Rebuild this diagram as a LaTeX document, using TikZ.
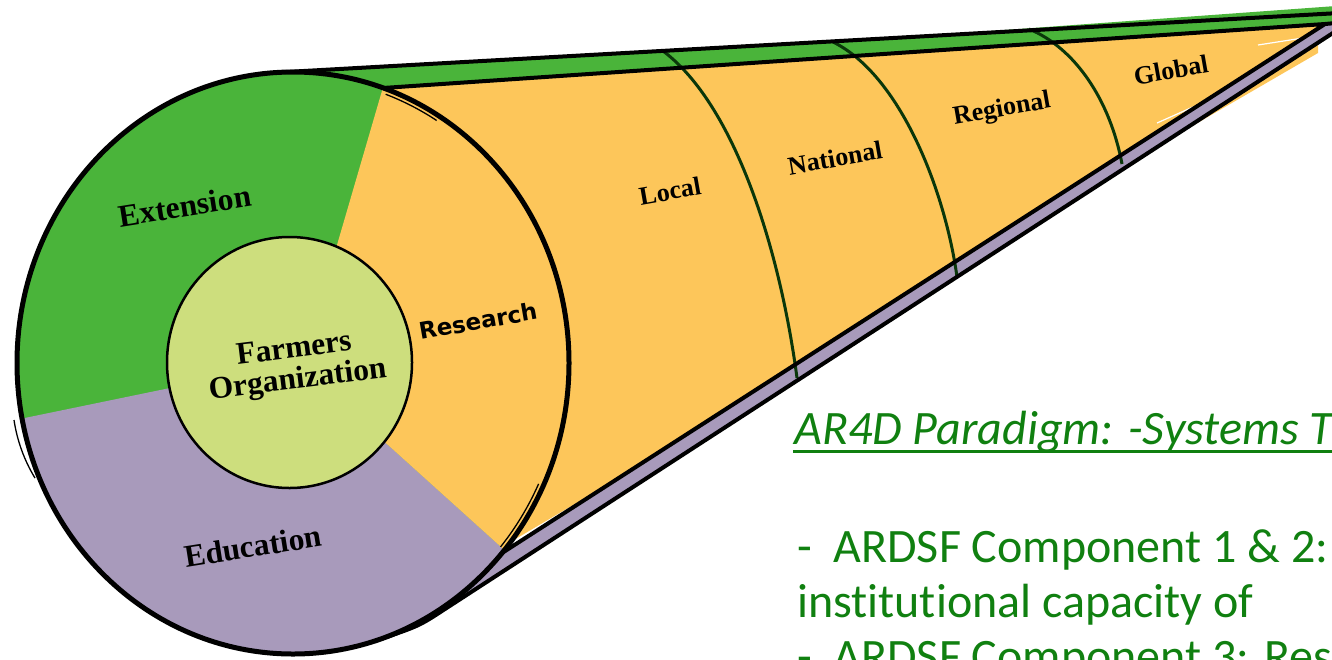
\documentclass[tikz,border=0pt]{standalone}
\usepackage{fontspec}
\newfontfamily\serifb{Liberation Serif}
\newfontfamily\sansb{DejaVu Sans}
\newfontfamily\calib{Carlito}[Ligatures={NoCommon}]
\definecolor{extgreen}{RGB}{74,180,58}
\definecolor{resorange}{RGB}{253,198,90}
\definecolor{edupurple}{RGB}{168,154,187}
\definecolor{innergreen}{RGB}{205,222,125}
\definecolor{divgreen}{RGB}{10,55,10}
\definecolor{txtgreen}{RGB}{16,128,16}
\begin{document}
\begin{tikzpicture}[x=1pt,y=-1pt,
  lbl/.style={font=\serifb\bfseries\fontsize{31.5}{31}\selectfont, inner sep=0, align=center},
  slbl/.style={font=\serifb\bfseries\fontsize{26}{27}\selectfont, inner sep=0},
  rlbl/.style={font=\sansb\bfseries\fontsize{23}{24}\selectfont, inner sep=0},
  outline/.style={line width=5pt, line join=round},
  bandline/.style={line width=4pt, line join=round},
  thinline/.style={line width=1.3pt},
  divider/.style={draw=divgreen, line width=3pt},
  rtext/.style={font=\calib\fontsize{48}{56}\selectfont, text=txtgreen, inner sep=0, anchor=base west}]
\useasboundingbox (0,0) rectangle (1332,659);
\clip (0,0) rectangle (1332,659);
% key points
\coordinate (ot1) at (278.6,72.4);
\coordinate (ot2) at (1336,13.2);
\coordinate (it1) at (383,88);
\coordinate (tip) at (1325,24);
\coordinate (tipe) at (1336,23);
\coordinate (ub1) at (502,553);
\coordinate (lb0) at (378.3,639.8);
\coordinate (lbc) at (419,626);
\coordinate (lb1) at (445,609);
\coordinate (lb2) at (1336,31);
\coordinate (ctr) at (290,363);
% green top band
\fill[extgreen] (900,37.6) -- (1336,6) -- (1336,13.2) -- cycle;
\fill[extgreen] (ot1) -- (ot2) -- (tipe) -- (tip) -- (it1) -- cycle;
% disc sectors
\fill[extgreen] (293,363) ellipse [x radius=276, y radius=291];
\fill[edupurple] (388,445) -- plot[domain=40:169, samples=70, variable=\t] ({293+276*cos(\t)},{363+291*sin(\t)}) -- (170,388) -- (ctr) -- cycle;
\fill[resorange] (337,245) -- plot[domain=-71:40, samples=70, variable=\t] ({293+276*cos(\t)},{363+291*sin(\t)}) -- (388,445) -- (ctr) -- cycle;
% orange cone
\fill[resorange] (it1) -- (tip) -- (690,436) -- (507,544) -- cycle;
% purple band
\fill[edupurple] (ub1) -- (tip) -- (tipe) -- (lb2) -- (lb1) .. controls (lbc) .. (lb0) -- cycle;
% orange sliver and white streaks
\fill[resorange] (1175,136) -- (1318,44) -- (1318,53) -- cycle;
\draw[white, line width=1.2pt] (1258,45) -- (1303,38);
\draw[white, line width=1.2pt] (1157,123) -- (1193,107);
% dividers
\draw[divider] (663,51) .. controls (735,105) and (780,250) .. (797,378);
\draw[divider] (833,42) .. controls (900,75) and (945,190) .. (957,277);
\draw[divider] (1029,29) .. controls (1075,48) and (1110,100) .. (1122,164);
% outlines
\draw[outline] (293,363) ellipse [x radius=276, y radius=291];
\draw[bandline] (ot1) -- (ot2);
\draw[bandline] (it1) -- (tip) -- (ub1);
\draw[bandline] (tip) -- (tipe);
\draw[bandline] (lb0) .. controls (lbc) .. (lb1) -- (lb2);
\draw[thinline] plot[domain=-70:-58, samples=20, variable=\t] ({293+271*cos(\t)},{363+286*sin(\t)});
\draw[thinline] plot[domain=25:40, samples=20, variable=\t] ({293+271*cos(\t)},{363+286*sin(\t)});
\draw[thinline] (14,420) .. controls (17,440) and (24,460) .. (35,478);
% inner circle
\draw[line width=2.5pt, fill=innergreen] (289.5,362.5) ellipse [x radius=122.5, y radius=125.5];
% labels
\node[lbl, rotate=9] (ext) at (185,206) {Extension};
\node[lbl, rotate=7] (farm) at (296,366) {Farmers\\Organization};
\node[lbl, rotate=9] (edu) at (253,546) {Education};
\node[rlbl, rotate=10] (res) at (478,321) {Research};
\node[slbl, rotate=10] (loc) at (670,191) {Local};
\node[slbl, rotate=10] (nat) at (835,158) {National};
\node[slbl, rotate=10] (reg) at (1002,110) {Regional};
\node[slbl, rotate=10] (glo) at (1171,70) {Global};
% right text
\node[rtext, font=\calib\itshape\fontsize{48}{56}\selectfont] (head) at (794,444) {AR4D Paradigm: -Systems T};
\draw[txtgreen, line width=3pt] (793,451) -- (1336,451);
\node[rtext] (l1) at (797,562) {-~~ARDSF Component 1 \& 2:};
\node[rtext] (l2) at (797,617) {institutional capacity of};
\node[rtext] (l3) at (797,672) {-~~ARDSF Component 3: Res};
\end{tikzpicture}
\end{document}
